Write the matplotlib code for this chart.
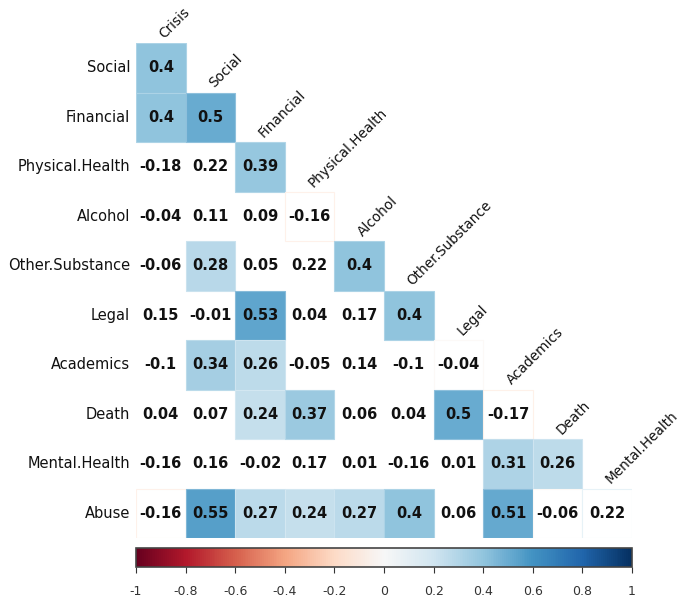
import numpy as np
import matplotlib
matplotlib.use("Agg")
import matplotlib.pyplot as plt
import matplotlib.colors as mcolors
from matplotlib.patches import Rectangle

# Column variables (lower triangle: row i uses columns 0..i-1)
col_names = ["Crisis", "Social", "Financial", "Physical.Health", "Alcohol",
             "Other.Substance", "Legal", "Academics", "Death", "Mental.Health"]
row_names = ["Social", "Financial", "Physical.Health", "Alcohol", "Other.Substance",
             "Legal", "Academics", "Death", "Mental.Health", "Abuse"]

# Correlations, one list per row
r_social = [0.4]
r_financial = [0.4, 0.5]
r_physical = [-0.18, 0.22, 0.39]
r_alcohol = [-0.04, 0.11, 0.09, -0.16]
r_other = [-0.06, 0.28, 0.05, 0.22, 0.4]
r_legal = [0.15, -0.01, 0.53, 0.04, 0.17, 0.4]
r_academics = [-0.1, 0.34, 0.26, -0.05, 0.14, -0.1, -0.04]
r_death = [0.04, 0.07, 0.24, 0.37, 0.06, 0.04, 0.5, -0.17]
r_mental = [-0.16, 0.16, -0.02, 0.17, 0.01, -0.16, 0.01, 0.31, 0.26]
r_abuse = [-0.16, 0.55, 0.27, 0.24, 0.27, 0.4, 0.06, 0.51, -0.06, 0.22]

# Cell shading: 1 = filled, 2 = outline only, 0 = blank
s_social = [1]
s_financial = [1, 1]
s_physical = [0, 0, 1]
s_alcohol = [0, 0, 0, 2]
s_other = [0, 1, 0, 0, 1]
s_legal = [0, 0, 1, 0, 0, 1]
s_academics = [0, 1, 1, 0, 0, 0, 2]
s_death = [0, 0, 1, 1, 0, 0, 1, 2]
s_mental = [0, 0, 0, 0, 0, 0, 0, 1, 1]
s_abuse = [2, 1, 1, 1, 1, 1, 0, 1, 2, 2]

corr_rows = [r_social, r_financial, r_physical, r_alcohol, r_other,
             r_legal, r_academics, r_death, r_mental, r_abuse]
shade_rows = [s_social, s_financial, s_physical, s_alcohol, s_other,
              s_legal, s_academics, s_death, s_mental, s_abuse]

cbar_ticks = [-1, -0.8, -0.6, -0.4, -0.2, 0, 0.2, 0.4, 0.6, 0.8, 1]
cbar_labels = ["-1", "-0.8", "-0.6", "-0.4", "-0.2", "0", "0.2", "0.4", "0.6", "0.8", "1"]

cmap = plt.get_cmap("RdBu")
norm = mcolors.Normalize(vmin=-1, vmax=1)


def lighten(c, amt):
    c = np.array(mcolors.to_rgb(c))
    return tuple(c + (1 - c) * amt)


W, H = 678, 597
fig = plt.figure(figsize=(W / 100, H / 100), dpi=100)

# grid spans x 136..632 px, y 43..538 px
ax = fig.add_axes([136 / W, (H - 538) / H, 496 / W, 495 / H])
ax.set_xlim(0, 10)
ax.set_ylim(10, 0)
ax.axis("off")

for i, (vals, shades) in enumerate(zip(corr_rows, shade_rows)):
    for j, (v, s) in enumerate(zip(vals, shades)):
        col = cmap(norm(v))
        if s == 1:
            ax.add_patch(Rectangle((j, i), 1, 1, facecolor=col,
                                   edgecolor=lighten(col, 0.25), lw=0.8))
        elif s == 2:
            ax.add_patch(Rectangle((j, i), 1, 1, facecolor="white",
                                   edgecolor=lighten(col, 0.55), lw=0.8))
        ax.text(j + 0.5, i + 0.5, f"{v:g}", ha="center", va="center",
                fontsize=10.5, fontweight="bold", color="#111111")
    ax.text(-0.12, i + 0.5, row_names[i], ha="right", va="center",
            fontsize=10.5, color="#111111", clip_on=False)

# column labels sit diagonally above the first cell of each column
for j, name in enumerate(col_names):
    ax.text(j + 0.62, j - 0.04, name, rotation=45, rotation_mode="anchor",
            ha="left", va="bottom", fontsize=9.8, color="#111111", clip_on=False)

# colour bar
cax = fig.add_axes([136 / W, (H - 567) / H, 496 / W, 19 / H])
sm = plt.cm.ScalarMappable(cmap=cmap, norm=norm)
cb = fig.colorbar(sm, cax=cax, orientation="horizontal", ticks=cbar_ticks)
cb.ax.set_xticklabels(cbar_labels)
cb.ax.tick_params(labelsize=9, colors="#333333", length=4, width=0.8, pad=9)
cb.outline.set_edgecolor("#444444")
cb.outline.set_linewidth(1.2)

fig.savefig("out.png", dpi=100, facecolor="white")
